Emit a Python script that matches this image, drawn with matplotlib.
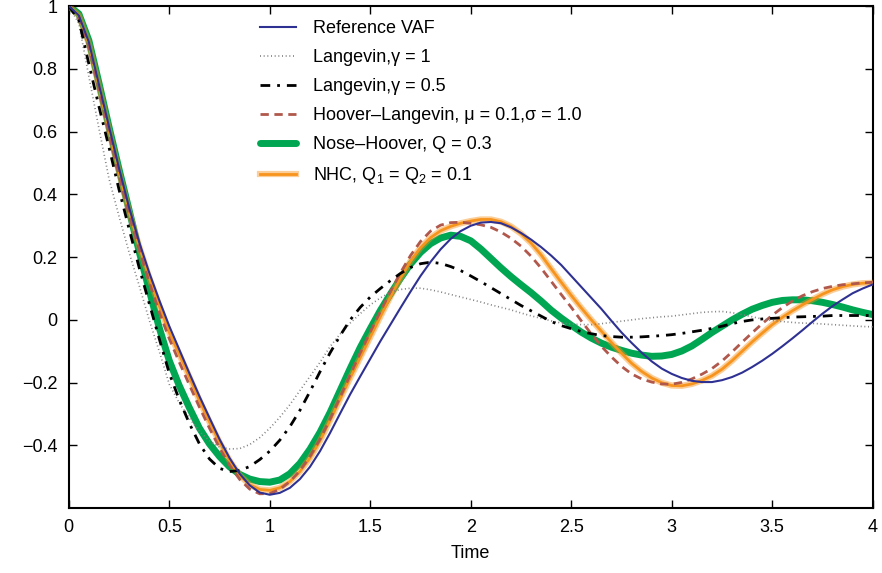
"""Velocity autocorrelation function for different thermostats."""

import matplotlib
matplotlib.use("Agg")
import matplotlib.pyplot as plt
from matplotlib import patheffects

plt.rcParams["font.family"] = ["Liberation Sans", "DejaVu Sans"]
plt.rcParams["mathtext.fontset"] = "custom"
plt.rcParams["mathtext.rm"] = "Liberation Sans"
plt.rcParams["mathtext.it"] = "Liberation Sans"

# time axis, 0.05 steps from 0 to 4
time = [round(0.05 * i, 2) for i in range(81)]

vaf_reference = [
    1.0, 0.97, 0.885, 0.75, 0.616, 0.483, 0.358, 0.248, 0.151, 0.063,
    -0.02, -0.095, -0.17, -0.243, -0.312, -0.38, -0.44, -0.49, -0.527, -0.55,
    -0.557, -0.551, -0.535, -0.507, -0.468, -0.418, -0.36, -0.298, -0.237, -0.18,
    -0.124, -0.068, -0.015, 0.038, 0.09, 0.14, 0.185, 0.225, 0.258, 0.283,
    0.30, 0.31, 0.312, 0.308, 0.295, 0.277, 0.256, 0.232, 0.205, 0.175,
    0.14, 0.105, 0.07, 0.035, -0.003, -0.04, -0.073, -0.104, -0.132, -0.155,
    -0.172, -0.185, -0.194, -0.198, -0.198, -0.192, -0.182, -0.168, -0.15, -0.13,
    -0.108, -0.084, -0.059, -0.033, -0.006, 0.02, 0.044, 0.065, 0.085, 0.10,
    0.113,
]
vaf_langevin_1 = [
    1.0, 0.945, 0.775, 0.61, 0.45, 0.33, 0.215, 0.11, 0.0, -0.1,
    -0.205, -0.265, -0.313, -0.355, -0.385, -0.405, -0.411, -0.41, -0.397, -0.375,
    -0.345, -0.31, -0.27, -0.225, -0.18, -0.135, -0.085, -0.045, -0.01, 0.02,
    0.048, 0.07, 0.088, 0.097, 0.101, 0.101, 0.096, 0.089, 0.081, 0.073,
    0.065, 0.057, 0.048, 0.04, 0.032, 0.022, 0.013, 0.005, -0.003, -0.01,
    -0.013, -0.015, -0.015, -0.012, -0.008, -0.004, 0.0, 0.004, 0.007, 0.01,
    0.012, 0.016, 0.02, 0.024, 0.026, 0.027, 0.023, 0.017, 0.01, 0.003,
    -0.002, -0.005, -0.008, -0.01, -0.011, -0.013, -0.015, -0.017, -0.019, -0.021,
    -0.022,
]
vaf_langevin_05 = [
    1.0, 0.955, 0.815, 0.68, 0.55, 0.415, 0.29, 0.167, 0.053, -0.06,
    -0.17, -0.255, -0.33, -0.395, -0.443, -0.473, -0.483, -0.48, -0.467, -0.445,
    -0.418, -0.383, -0.34, -0.288, -0.228, -0.165, -0.105, -0.05, 0.0, 0.04,
    0.073, 0.1, 0.125, 0.148, 0.167, 0.179, 0.184, 0.18, 0.17, 0.157,
    0.14, 0.122, 0.103, 0.084, 0.065, 0.046, 0.029, 0.012, -0.005, -0.018,
    -0.028, -0.037, -0.044, -0.05, -0.053, -0.055, -0.055, -0.054, -0.052, -0.05,
    -0.047, -0.043, -0.038, -0.033, -0.027, -0.02, -0.012, -0.005, 0.0, 0.003,
    0.005, 0.007, 0.009, 0.01, 0.011, 0.012, 0.014, 0.014, 0.014, 0.014,
    0.014,
]
vaf_hoover_langevin = [
    1.0, 0.965, 0.87, 0.735, 0.595, 0.46, 0.335, 0.225, 0.12, 0.025,
    -0.06, -0.135, -0.207, -0.278, -0.345, -0.408, -0.463, -0.508, -0.539, -0.554,
    -0.553, -0.54, -0.515, -0.48, -0.435, -0.38, -0.316, -0.246, -0.175, -0.105,
    -0.038, 0.027, 0.09, 0.15, 0.205, 0.25, 0.283, 0.302, 0.31, 0.311,
    0.308, 0.303, 0.295, 0.28, 0.26, 0.235, 0.203, 0.165, 0.123, 0.081,
    0.04, -0.003, -0.045, -0.084, -0.118, -0.148, -0.172, -0.188, -0.198, -0.204,
    -0.205, -0.199, -0.188, -0.173, -0.155, -0.131, -0.102, -0.071, -0.041, -0.012,
    0.015, 0.039, 0.06, 0.077, 0.09, 0.1, 0.107, 0.112, 0.115, 0.118,
    0.12,
]
vaf_nose_hoover = [
    1.0, 0.975, 0.89, 0.755, 0.615, 0.48, 0.35, 0.218, 0.095, -0.025,
    -0.13, -0.21, -0.28, -0.345, -0.395, -0.435, -0.468, -0.492, -0.507, -0.515,
    -0.517, -0.51, -0.49, -0.457, -0.412, -0.358, -0.295, -0.225, -0.155, -0.088,
    -0.028, 0.03, 0.082, 0.132, 0.178, 0.215, 0.243, 0.261, 0.27, 0.266,
    0.252, 0.226, 0.196, 0.166, 0.138, 0.112, 0.087, 0.06, 0.031, 0.006,
    -0.017, -0.039, -0.058, -0.074, -0.087, -0.097, -0.106, -0.112, -0.116, -0.115,
    -0.11, -0.099, -0.083, -0.062, -0.04, -0.02, 0.0, 0.018, 0.034, 0.046,
    0.056, 0.062, 0.064, 0.064, 0.061, 0.056, 0.049, 0.041, 0.032, 0.024,
    0.017,
]
vaf_nhc = [
    1.0, 0.97, 0.88, 0.745, 0.605, 0.47, 0.345, 0.235, 0.135, 0.045,
    -0.04, -0.11, -0.182, -0.257, -0.325, -0.39, -0.448, -0.495, -0.525, -0.54,
    -0.543, -0.535, -0.515, -0.483, -0.44, -0.385, -0.32, -0.252, -0.185, -0.12,
    -0.055, 0.01, 0.073, 0.133, 0.187, 0.23, 0.262, 0.284, 0.298, 0.308,
    0.315, 0.32, 0.32, 0.313, 0.298, 0.275, 0.245, 0.207, 0.163, 0.12,
    0.078, 0.038, 0.0, -0.036, -0.072, -0.106, -0.138, -0.164, -0.185, -0.2,
    -0.209, -0.21, -0.204, -0.193, -0.178, -0.157, -0.13, -0.1, -0.07, -0.042,
    -0.015, 0.008, 0.029, 0.048, 0.065, 0.082, 0.096, 0.106, 0.113, 0.117,
    0.118,
]

x_ticks = [0, 0.5, 1, 1.5, 2, 2.5, 3, 3.5, 4]
x_tick_labels = ["0", "0.5", "1", "1.5", "2", "2.5", "3", "3.5", "4"]
y_ticks = [-0.4, -0.2, 0, 0.2, 0.4, 0.6, 0.8, 1]
y_tick_labels = ["\u22120.4", "\u22120.2", "0", "0.2", "0.4", "0.6", "0.8", "1"]


def main() -> None:
    fig = plt.figure(figsize=(8.82, 5.73), dpi=100)
    ax = fig.add_axes([0.078, 0.113, 0.9115, 0.8765])

    ax.plot(time, vaf_reference, color="#2e3192", lw=1.5, zorder=7,
            label="Reference VAF")
    ax.plot(time, vaf_langevin_1, color="#808080", lw=1.2, ls=(0, (0.6, 1.6)),
            zorder=5, label="Langevin,\u03b3 = 1")
    ax.plot(time, vaf_langevin_05, color="black", lw=2.0,
            ls=(0, (3.5, 2.5, 1, 2.5)), zorder=6, label="Langevin,\u03b3 = 0.5")
    ax.plot(time, vaf_hoover_langevin, color="#b0584c", lw=2.0, ls=(0, (3, 2)),
            zorder=4, label="Hoover\u2013Langevin, \u03bc = 0.1,\u03c3 = 1.0")
    ax.plot(time, vaf_nose_hoover, color="#00a651", lw=5, zorder=2,
            solid_capstyle="round", solid_joinstyle="round",
            label="Nose\u2013Hoover, Q = 0.3")
    ax.plot(time, vaf_nhc, color="#f7941d", lw=2, zorder=3,
            solid_joinstyle="round", label="NHC, Q$_1$ = Q$_2$ = 0.1",
            path_effects=[patheffects.Stroke(linewidth=4.5, foreground="#f7941d",
                                             alpha=0.45),
                          patheffects.Normal()])

    ax.set_xlim(0, 4)
    ax.set_ylim(-0.6, 1)
    ax.set_xticks(x_ticks)
    ax.set_xticklabels(x_tick_labels)
    ax.set_yticks(y_ticks)
    ax.set_yticklabels(y_tick_labels)
    ax.tick_params(direction="in", length=6, width=1, top=True, right=True,
                   labelsize=13, pad=8)
    for spine in ax.spines.values():
        spine.set_linewidth(1.5)
    ax.set_xlabel("Time", fontsize=13, labelpad=6)

    ax.legend(loc="upper left", bbox_to_anchor=(0.229, 0.986), frameon=False,
              fontsize=13, handlelength=2.0, handletextpad=0.95,
              labelspacing=0.66, borderaxespad=0)

    fig.savefig("out.png", dpi=100)
    plt.close(fig)


if __name__ == "__main__":
    main()
